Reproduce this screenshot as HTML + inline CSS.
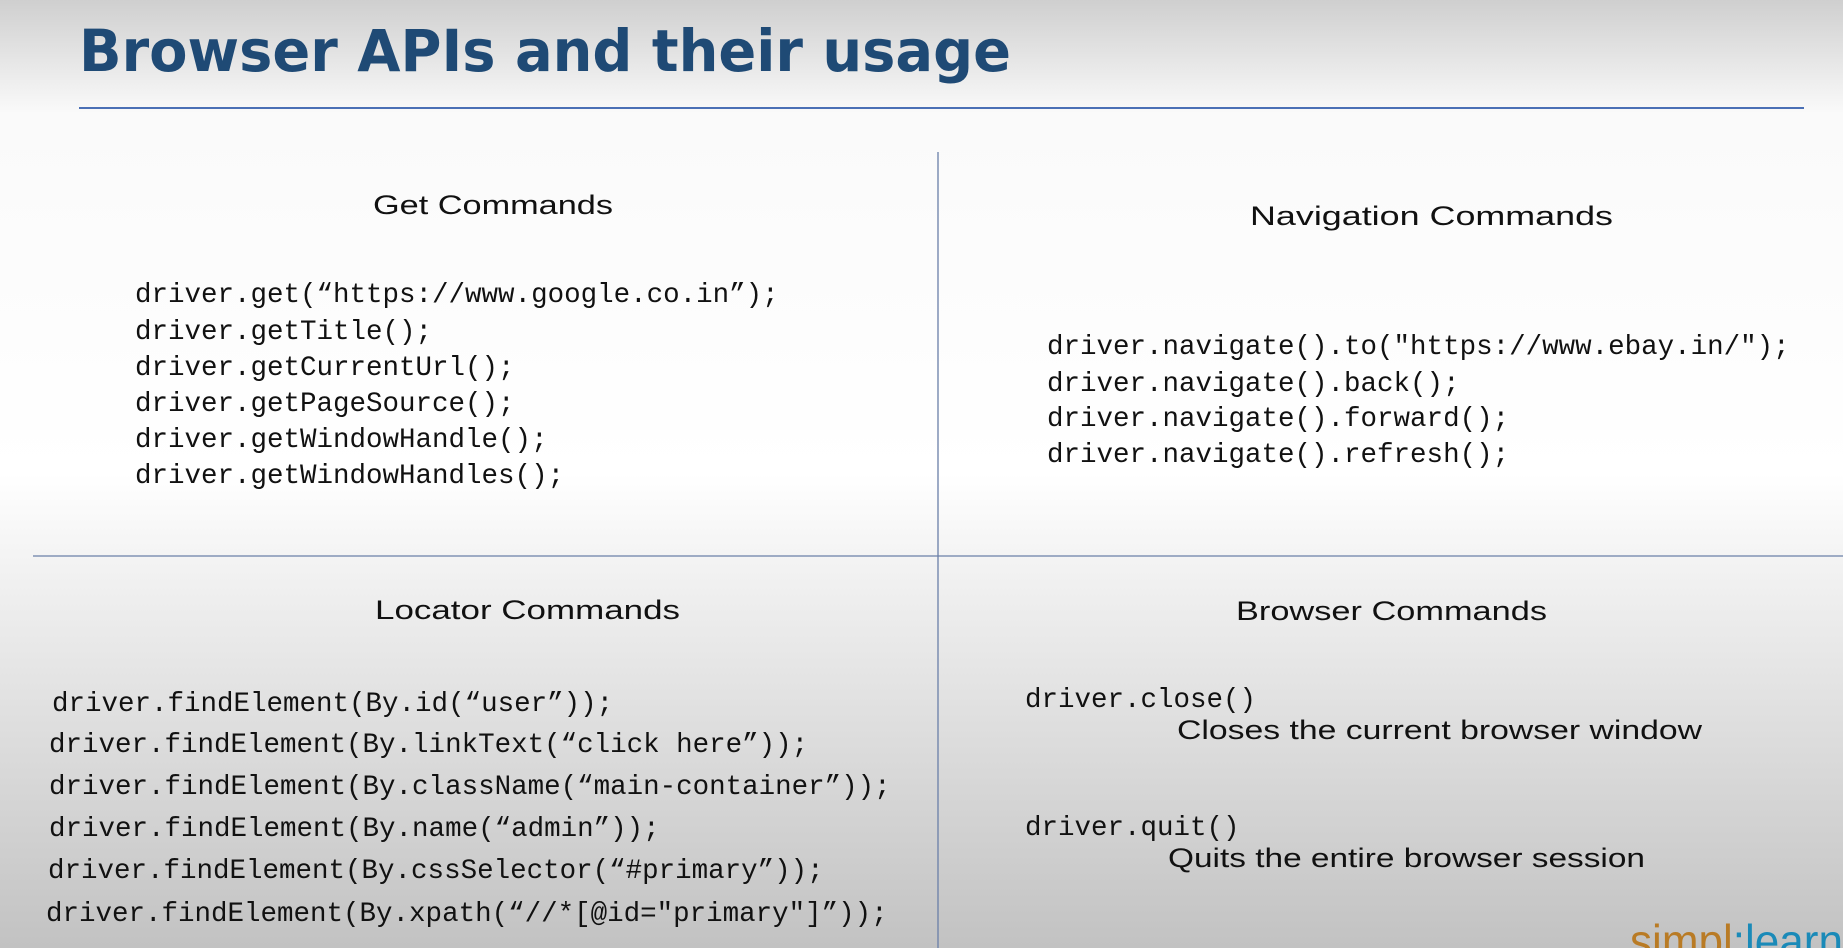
<!DOCTYPE html>
<html><head><meta charset="utf-8"><style>
html,body{margin:0;padding:0;width:1843px;height:948px;overflow:hidden}
svg{display:block}
.h{font-family:"Liberation Sans",sans-serif;font-size:27px;fill:#111}
.c{font-family:"Liberation Mono",monospace;font-size:27.5px;fill:#111}
.d{font-family:"Liberation Sans",sans-serif;font-size:27px;fill:#111}
</style></head><body>
<svg width="1843" height="948" viewBox="0 0 1843 948">
<defs>
<linearGradient id="bg" x1="0" y1="0" x2="0" y2="1">
<stop offset="0" stop-color="#cfcfcf"/>
<stop offset="0.12" stop-color="#fafafa"/>
<stop offset="0.5" stop-color="#ffffff"/>
<stop offset="0.6" stop-color="#f2f2f2"/>
<stop offset="1" stop-color="#c2c2c2"/>
</linearGradient>
</defs>
<rect width="1843" height="948" fill="url(#bg)"/>
<text x="79" y="71" font-family="DejaVu Sans,sans-serif" font-weight="bold" font-size="58" fill="#1f4a75" textLength="932" lengthAdjust="spacingAndGlyphs">Browser APIs and their usage</text>
<line x1="79" y1="108" x2="1804" y2="108" stroke="#4a6fb5" stroke-width="2"/>
<line x1="938" y1="152" x2="938" y2="948" stroke="#6a7fa8" stroke-width="1.3"/>
<line x1="33" y1="556" x2="1843" y2="556" stroke="#6a7fa8" stroke-width="1.3"/>

<text class="h" x="373" y="214" textLength="240" lengthAdjust="spacingAndGlyphs">Get Commands</text>
<text class="c" x="135" y="302">driver.get(“https://www.google.co.in”);</text>
<text class="c" x="135" y="339">driver.getTitle();</text>
<text class="c" x="135" y="375">driver.getCurrentUrl();</text>
<text class="c" x="135" y="411">driver.getPageSource();</text>
<text class="c" x="135" y="447">driver.getWindowHandle();</text>
<text class="c" x="135" y="483">driver.getWindowHandles();</text>

<text class="h" x="1250" y="225" textLength="363" lengthAdjust="spacingAndGlyphs">Navigation  Commands</text>
<text class="c" x="1047" y="354">driver.navigate().to("https://www.ebay.in/");</text>
<text class="c" x="1047" y="391">driver.navigate().back();</text>
<text class="c" x="1047" y="426">driver.navigate().forward();</text>
<text class="c" x="1047" y="462">driver.navigate().refresh();</text>

<text class="h" x="375" y="619" textLength="305" lengthAdjust="spacingAndGlyphs">Locator Commands</text>
<text class="c" x="52" y="711">driver.findElement(By.id(“user”));</text>
<text class="c" x="49" y="752">driver.findElement(By.linkText(“click here”));</text>
<text class="c" x="49" y="794">driver.findElement(By.className(“main-container”));</text>
<text class="c" x="49" y="836">driver.findElement(By.name(“admin”));</text>
<text class="c" x="48" y="878">driver.findElement(By.cssSelector(“#primary”));</text>
<text class="c" x="46" y="921">driver.findElement(By.xpath(“//*[@id="primary"]”));</text>

<text class="h" x="1236" y="620" textLength="311" lengthAdjust="spacingAndGlyphs">Browser Commands</text>
<text class="c" x="1025" y="707">driver.close()</text>
<text class="d" x="1177" y="739" textLength="525" lengthAdjust="spacingAndGlyphs">Closes the current browser window</text>
<text class="c" x="1025" y="835">driver.quit()</text>
<text class="d" x="1168" y="867" textLength="477" lengthAdjust="spacingAndGlyphs">Quits the entire browser session</text>

<text x="1630" y="957" font-family="Liberation Sans,sans-serif" font-size="46" textLength="213" lengthAdjust="spacingAndGlyphs"><tspan fill="#b97b25">simpl</tspan><tspan fill="#1a8ab8">:learn</tspan></text>
</svg>
</body></html>
